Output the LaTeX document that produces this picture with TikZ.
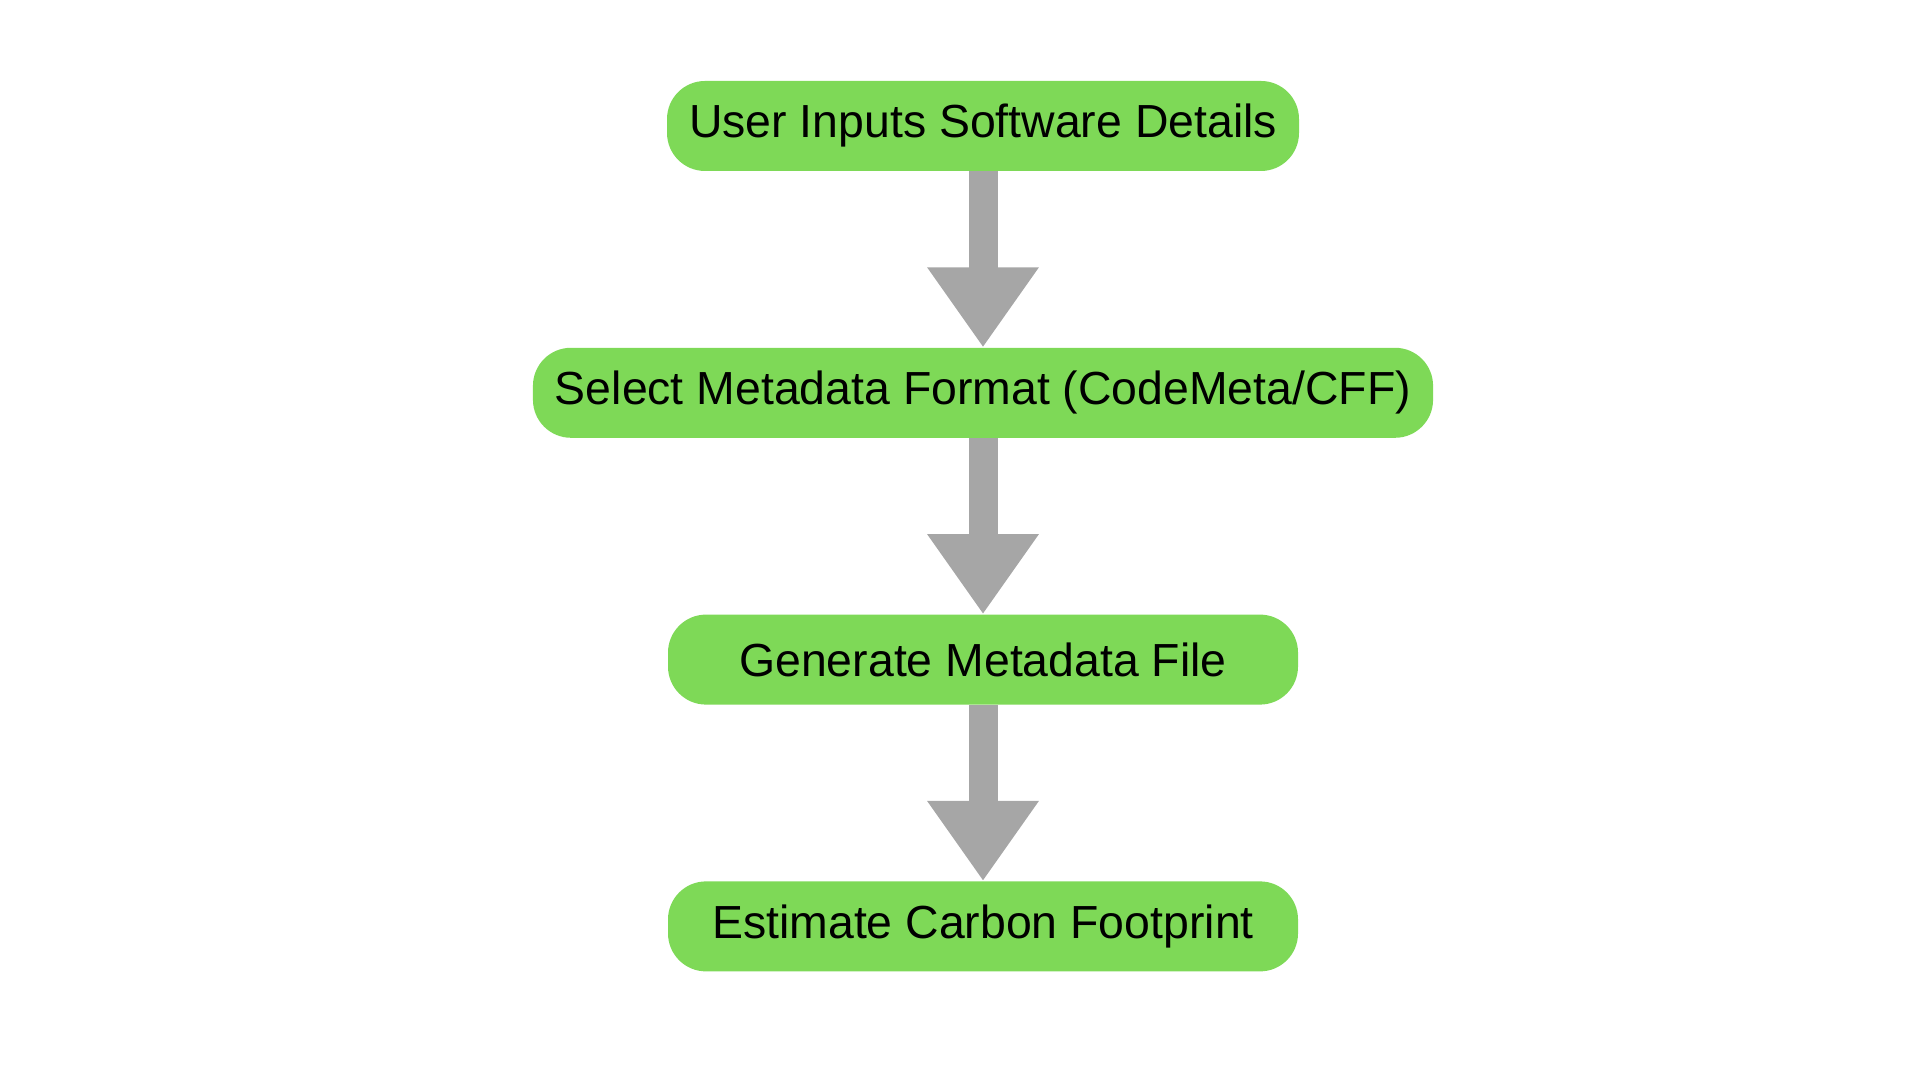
\documentclass[tikz,border=0pt]{standalone}
\usepackage{fontspec}
\setmainfont{Liberation Sans}
\usepackage{xcolor}
\usetikzlibrary{positioning,arrows.meta}

\begin{document}
\begin{tikzpicture}[
    x=1pt,y=1pt,
    node distance=88pt,
    stepbox/.style={fill=stepgreen,rounded corners=19pt,minimum width=315pt,
      minimum height=45pt,inner xsep=11pt,font=\fontsize{23.2}{28}\selectfont},
    flowarrow/.style={draw=arrowgray,line width=14.5pt,
      -{Triangle[width=53pt,length=40pt]}}
  ]
  \definecolor{stepgreen}{HTML}{7ED957}%
  \definecolor{arrowgray}{HTML}{A6A6A6}%
  \useasboundingbox (0,0) rectangle (960,540);
  \node[stepbox] (user) at (491.5,477) {User Inputs Software Details};
  \node[stepbox,below=of user] (select) {Select Metadata Format (CodeMeta/CFF)};
  \node[stepbox,below=of select] (generate) {Generate Metadata File};
  \node[stepbox,below=of generate] (estimate) {Estimate Carbon Footprint};
  \foreach \a/\b in {user/select,select/generate,generate/estimate}{
    \draw[flowarrow] (\a.south) -- (\b.north);
  }
\end{tikzpicture}
\end{document}
